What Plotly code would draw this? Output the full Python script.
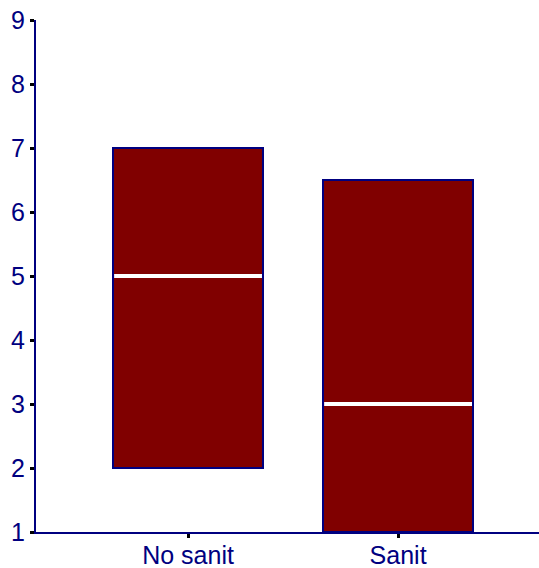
import plotly.graph_objects as go

categories = ["No sanit", "Sanit"]
q_low = [2, 1]
q_high = [7, 6.5]
medians = [5, 3]

box_width = 0.714
xpos = list(range(len(categories)))

fig = go.Figure()
fig.add_trace(go.Bar(
    x=xpos, y=[h - l for h, l in zip(q_high, q_low)], base=q_low,
    width=box_width, marker=dict(color="#800000", line=dict(color="#000080", width=2)),
    showlegend=False, hoverinfo="skip",
))
for xi, m in zip(xpos, medians):
    fig.add_trace(go.Scatter(
        x=[xi - box_width / 2 + 0.005, xi + box_width / 2 - 0.005], y=[m, m], mode="lines",
        line=dict(color="white", width=4), showlegend=False, hoverinfo="skip",
    ))

fig.update_layout(
    width=539, height=568,
    margin=dict(l=36, r=0, t=20, b=36),
    paper_bgcolor="white", plot_bgcolor="white",
    font=dict(family="Liberation Sans, Arial", size=25, color="#000080"),
    bargap=0,
)
fig.update_xaxes(
    range=[-0.724, 1.671], tickvals=xpos, ticktext=categories, automargin=False,
    ticklabelstandoff=-4,
    showline=True, linecolor="#000080", linewidth=2, showgrid=False, zeroline=False,
    ticks="outside", ticklen=4, tickwidth=3, tickcolor="black",
)
fig.update_yaxes(
    range=[1, 9], tickvals=list(range(1, 10)), automargin=False,
    showline=True, linecolor="#000080", linewidth=2, showgrid=False, zeroline=False,
    ticks="outside", ticklen=4, tickwidth=3, tickcolor="black",
)
fig.write_html("out.html")
